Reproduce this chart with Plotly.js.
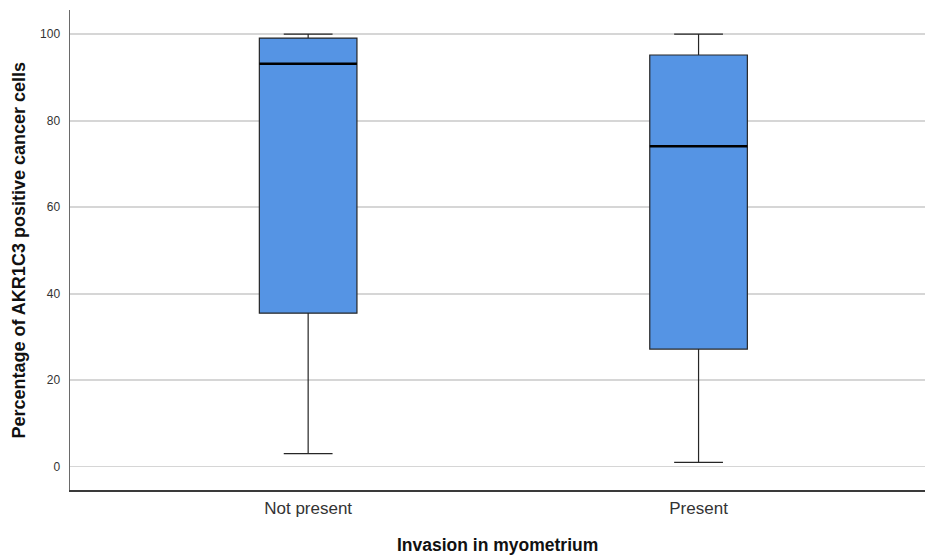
<!DOCTYPE html>
<html>
<head>
<meta charset="utf-8">
<script src="https://cdn.plot.ly/plotly-3.0.1.min.js"></script>
<style>html,body{margin:0;padding:0;background:#fff;}#chart{width:925px;height:556px;}</style>
</head>
<body>
<div id="chart"></div>
<script>
const categories = ["Not present", "Present"];
const lowerWhisker = [3, 1];
const q1 = [35.5, 27.2];
const median = [93.2, 74.1];
const q3 = [99.1, 95.2];
const upperWhisker = [100, 100];
const yTicks = [0, 20, 40, 60, 80, 100];

const boxWidth = 0.25;

const trace = {
  type: "box",
  x: categories,
  q1: q1,
  median: median,
  q3: q3,
  lowerfence: lowerWhisker,
  upperfence: upperWhisker,
  boxpoints: false,
  width: boxWidth,
  whiskerwidth: 0.5,
  fillcolor: "#5594e4",
  line: { color: "#262626", width: 1.2 },
  hoverinfo: "skip",
  showlegend: false
};

const shapes = median.map((m, i) => ({
  type: "line", xref: "x", yref: "y",
  x0: i - boxWidth / 2, x1: i + boxWidth / 2, y0: m, y1: m,
  line: { color: "#000000", width: 2.5 }
}));

const layout = {
  width: 925, height: 556,
  margin: { l: 70, r: 0, t: 10, b: 66 },
  paper_bgcolor: "#ffffff",
  plot_bgcolor: "#ffffff",
  font: { family: "Liberation Sans, Arial, sans-serif", color: "#222" },
  xaxis: {
    type: "category",
    range: [-0.61, 1.58],
    showgrid: false,
    zeroline: false,
    showline: true,
    linecolor: "#3a3a3a",
    linewidth: 1.5,
    ticks: "",
    tickfont: { size: 17, color: "#333" },
    ticklabelstandoff: 2
  },
  yaxis: {
    range: [-5.39, 105.6],
    tickvals: yTicks,
    ticktext: yTicks.map(String),
    showgrid: true,
    gridcolor: "#d6d6d6",
    gridwidth: 1.6,
    zeroline: false,
    showline: true,
    linecolor: "#6a6a6a",
    linewidth: 1.5,
    ticks: "",
    tickfont: { size: 12, color: "#333" },
    ticklabelstandoff: 6
  },
  shapes: shapes,
  annotations: [
    {
      text: "Invasion in myometrium", xref: "paper", yref: "paper",
      x: 0.5, y: 0, yshift: -55, xanchor: "center", yanchor: "middle",
      showarrow: false, font: { size: 17.5, color: "#111", family: "Liberation Sans, Arial, sans-serif", weight: "bold" }
    },
    {
      text: "Percentage of AKR1C3 positive cancer cells", xref: "paper", yref: "paper",
      x: 0, y: 0.5, xshift: -51.5, xanchor: "center", yanchor: "middle", textangle: -90,
      showarrow: false, font: { size: 18, color: "#111", family: "Liberation Sans, Arial, sans-serif", weight: "bold" }
    }
  ]
};

Plotly.newPlot("chart", [trace], layout, { staticPlot: true, displayModeBar: false });
</script>
</body>
</html>
